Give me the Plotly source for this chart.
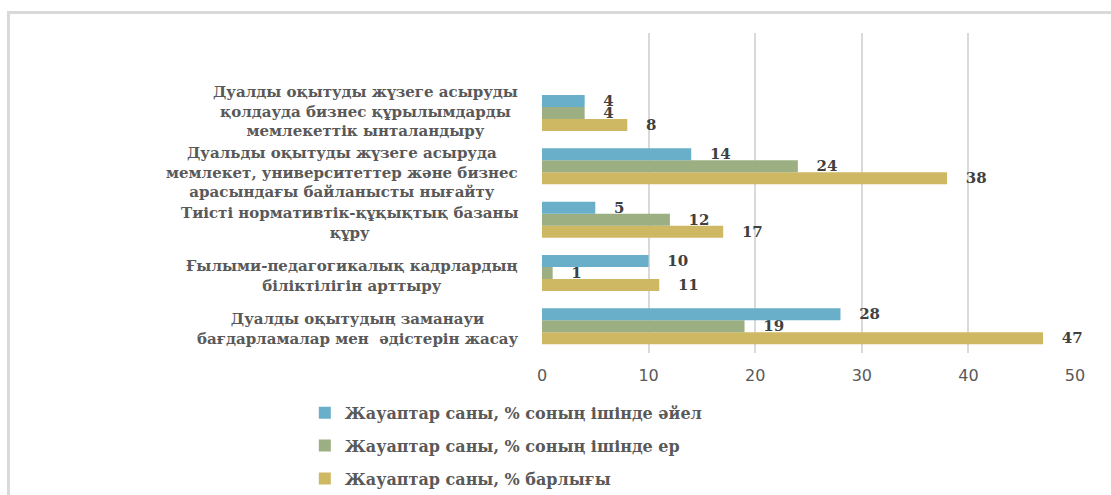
import plotly.graph_objects as go

categories = [
    "Дуалды оқытудың заманауи<br>бағдарламалар мен  әдістерін жасау",
    "Ғылыми-педагогикалық кадрлардың<br>біліктілігін арттыру",
    "Тиісті нормативтік-құқықтық базаны<br>құру",
    "Дуальды оқытуды жүзеге асыруда<br>мемлекет, университеттер және бизнес<br>арасындағы байланысты нығайту",
    "Дуалды оқытуды жүзеге асыруды<br>қолдауда бизнес құрылымдарды<br>мемлекеттік ынталандыру",
]
women = [28, 10, 5, 14, 4]
men = [19, 1, 12, 24, 4]
total = [47, 11, 17, 38, 8]

series_names = [
    "Жауаптар саны, % соның ішінде әйел",
    "Жауаптар саны, % соның ішінде ер",
    "Жауаптар саны, % барлығы",
]
x_ticks = [0, 10, 20, 30, 40, 50]

colors = {"women": "#69AFC9", "men": "#9CAF82", "total": "#CFB863"}
label_font = dict(family="DejaVu Serif", size=15, color="#595959", weight="bold")
legend_font = dict(family="DejaVu Serif", size=16, color="#595959", weight="bold")
value_font = dict(family="DejaVu Serif", size=15, color="#404040", weight="bold")

fig = go.Figure()
for vals, name, col, rank in [
    (total, series_names[2], colors["total"], 3),
    (men, series_names[1], colors["men"], 2),
    (women, series_names[0], colors["women"], 1),
]:
    fig.add_trace(go.Bar(
        y=categories, x=vals, name=name, orientation="h",
        marker=dict(color=col, line=dict(width=0)),
        text=vals, texttemplate="\u00a0\u00a0\u00a0%{x}",
        textposition="outside", constraintext="none", cliponaxis=False,
        textfont=value_font, legendgroup=f"g{rank}", legendrank=rank,
    ))

label_shifts = [-3, -3, -3, -6, 2]
for cat, ys in zip(categories, label_shifts):
    fig.add_annotation(
        x=0, xref="paper", y=cat, yref="y", xanchor="right", yanchor="middle",
        xshift=-22, yshift=ys, text=cat, showarrow=False, align="center",
        font=label_font,
    )

# chart border
fig.add_shape(type="rect", xref="paper", yref="paper",
              x0=-1.001, x1=1.2, y0=-0.7, y1=1.064,
              line=dict(color="#D9D9D9", width=3), layer="below")

fig.update_layout(
    width=1111, height=495,
    margin=dict(l=542, r=36, t=33, b=142, autoexpand=False),
    paper_bgcolor="white", plot_bgcolor="white",
    barmode="group", bargap=0.324, bargroupgap=0,
    showlegend=True,
    legend=dict(
        x=-0.445, xanchor="left", y=-0.134, yanchor="top",
        traceorder="grouped", tracegroupgap=9,
        font=legend_font, bgcolor="rgba(0,0,0,0)",
        itemwidth=30,
    ),
    xaxis=dict(
        range=[0, 50], tickvals=x_ticks, showgrid=True,
        gridcolor="#D9D9D9", gridwidth=2, zeroline=False,
        showline=False, ticks="",
        tickfont=dict(family="DejaVu Sans", size=16, color="#595959"),
        ticklabelstandoff=11,
    ),
    yaxis=dict(
        type="category", categoryorder="array", categoryarray=categories,
        range=[-0.5, 5.5], showticklabels=False, showgrid=False,
        zeroline=False, showline=False, ticks="",
    ),
)

fig.write_html("out.html")
